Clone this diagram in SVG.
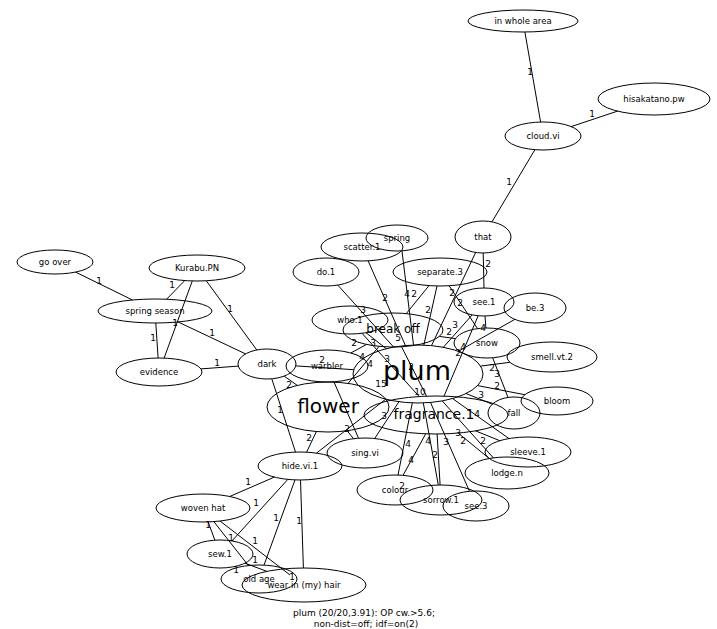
<svg xmlns="http://www.w3.org/2000/svg" width="717" height="629" viewBox="0 0 717 629">
<style>
  .bg { fill: #fff; }
  .e line { stroke: #000; stroke-width: 1; fill: none; }
  .w { font-family: "DejaVu Sans", "Liberation Sans", sans-serif; font-size: 9px; fill: #000; text-anchor: middle; }
  .n ellipse { fill: none; stroke: #000; stroke-width: 1; }
  .n text { font-family: "DejaVu Sans", "Liberation Sans", sans-serif; font-size: 8.5px; fill: #000; text-anchor: middle; }
  .foot { font-family: "DejaVu Sans", "Liberation Sans", sans-serif; font-size: 9px; fill: #000; text-anchor: middle; }
</style>
<rect class="bg" x="0" y="0" width="717" height="629"/>

<!-- connectors: lines run between ellipse rims, weight printed near the middle -->
<g id="connectors" class="e">
  <line x1="524.9" y1="32" x2="540.6" y2="122"/>
  <line x1="617.6" y1="111.1" x2="571.2" y2="126.6"/>
  <line x1="534.9" y1="149.7" x2="492" y2="221.8"/>
  <line x1="483.2" y1="253" x2="484" y2="288"/>
  <line x1="475.7" y1="252.4" x2="431.5" y2="345.6"/>
  <line x1="75.6" y1="272.1" x2="132.5" y2="300"/>
  <line x1="184.7" y1="280.6" x2="166.5" y2="299.3"/>
  <line x1="192.3" y1="280.9" x2="164.1" y2="358.1"/>
  <line x1="206.3" y1="280.8" x2="256.8" y2="350"/>
  <line x1="155.8" y1="323" x2="158.1" y2="358"/>
  <line x1="178.2" y1="322" x2="245.6" y2="353.9"/>
  <line x1="200.9" y1="368.9" x2="238.4" y2="366.1"/>
  <line x1="296" y1="365.9" x2="353.7" y2="369.7"/>
  <line x1="284.1" y1="376.1" x2="297.3" y2="385.4"/>
  <line x1="271.8" y1="378.8" x2="295.5" y2="452.1"/>
  <line x1="333.9" y1="381.8" x2="358.5" y2="438.2"/>
  <line x1="316.5" y1="453.1" x2="385.7" y2="399.2"/>
  <line x1="306.6" y1="452.2" x2="316.4" y2="431.5"/>
  <line x1="274.4" y1="477.1" x2="229.7" y2="496.5"/>
  <line x1="287.8" y1="479.4" x2="231.9" y2="541"/>
  <line x1="295" y1="479.9" x2="264" y2="565.1"/>
  <line x1="300.5" y1="480" x2="303.4" y2="568"/>
  <line x1="208.1" y1="521.9" x2="214.9" y2="540.2"/>
  <line x1="213.8" y1="521.6" x2="248.4" y2="565.6"/>
  <line x1="220" y1="521" x2="290" y2="575"/>
  <line x1="245" y1="563.2" x2="267" y2="571.4"/>
  <line x1="368.1" y1="260.8" x2="405.4" y2="345.5"/>
  <line x1="402" y1="251" x2="413.5" y2="345"/>
  <line x1="437" y1="286" x2="423.8" y2="345.1"/>
  <line x1="429" y1="285.6" x2="406.3" y2="313.6"/>
  <line x1="337.8" y1="285.1" x2="393.7" y2="347.1"/>
  <line x1="366" y1="332.7" x2="386.2" y2="348.7"/>
  <line x1="412.3" y1="402.9" x2="398" y2="475"/>
  <line x1="425.7" y1="433.8" x2="403" y2="475.4"/>
  <line x1="423.3" y1="402.9" x2="438.3" y2="485"/>
  <line x1="437.1" y1="434" x2="440.1" y2="485"/>
  <line x1="430.5" y1="402.5" x2="469.5" y2="491.3"/>
  <line x1="458.2" y1="433.1" x2="489.3" y2="458.5"/>
  <line x1="442.2" y1="400.9" x2="493.4" y2="457.9"/>
  <line x1="452.6" y1="398.6" x2="509" y2="438.6"/>
  <line x1="475.6" y1="430.9" x2="499.8" y2="440.7"/>
  <line x1="466" y1="393.5" x2="492.3" y2="404.2"/>
  <line x1="477.6" y1="385.6" x2="524.8" y2="394.7"/>
  <line x1="480.6" y1="366.1" x2="509.9" y2="362.3"/>
  <line x1="492.7" y1="357.8" x2="508" y2="397.4"/>
  <line x1="478.2" y1="315.7" x2="444" y2="396.1"/>
  <line x1="439.3" y1="336.4" x2="455.4" y2="338.6"/>
  <line x1="449.1" y1="285.7" x2="477.5" y2="328.6"/>
  <line x1="485" y1="316" x2="485.9" y2="328"/>
  <line x1="472.2" y1="314.9" x2="442.6" y2="348.1"/>
  <line x1="514.8" y1="319.4" x2="458.4" y2="351.2"/>
  <line x1="350.8" y1="353" x2="366.5" y2="344.4"/>
  <line x1="379.2" y1="346.3" x2="348" y2="383.4"/>
  <line x1="401.5" y1="346.7" x2="426.5" y2="396.1"/>
  <line x1="362" y1="333.3" x2="419.2" y2="396.5"/>
  <line x1="374.7" y1="438.5" x2="399.3" y2="401.2"/>
  <line x1="353.5" y1="438.7" x2="347.1" y2="430.7"/>

  <g class="w">
    <text x="530" y="75">1</text>
    <text x="592" y="117">1</text>
    <text x="509" y="185">1</text>
    <text x="488" y="267">2</text>
    <text x="452" y="296">2</text>
    <text x="99" y="284">1</text>
    <text x="172" y="288">1</text>
    <text x="175" y="326">1</text>
    <text x="230" y="312">1</text>
    <text x="153" y="341">1</text>
    <text x="212" y="336">1</text>
    <text x="217" y="366">1</text>
    <text x="322" y="363">2</text>
    <text x="289" y="388">2</text>
    <text x="280" y="413">1</text>
    <text x="347" y="432">2</text>
    <text x="309" y="441">2</text>
    <text x="248" y="485">1</text>
    <text x="256" y="506">1</text>
    <text x="276" y="521">1</text>
    <text x="299" y="524">1</text>
    <text x="208" y="528">1</text>
    <text x="231" y="541">1</text>
    <text x="255" y="544">1</text>
    <text x="255" y="563">1</text>
    <text x="236" y="573">1</text>
    <text x="292" y="580">1</text>
    <text x="385" y="301">2</text>
    <text x="407" y="297">4</text>
    <text x="414" y="297">2</text>
    <text x="428" y="313">2</text>
    <text x="460" y="306">2</text>
    <text x="363" y="313">3</text>
    <text x="373" y="346">3</text>
    <text x="354" y="346">2</text>
    <text x="398" y="341">5</text>
    <text x="449" y="335">2</text>
    <text x="455" y="328">3</text>
    <text x="483" y="331">4</text>
    <text x="463" y="350">4</text>
    <text x="458" y="356">2</text>
    <text x="362" y="360">4</text>
    <text x="370" y="367">4</text>
    <text x="387" y="362">3</text>
    <text x="411" y="370">2</text>
    <text x="381" y="387">15</text>
    <text x="420" y="395">10</text>
    <text x="384" y="419">3</text>
    <text x="492" y="371">2</text>
    <text x="497" y="377">3</text>
    <text x="497" y="389">2</text>
    <text x="481" y="398">3</text>
    <text x="477" y="417">4</text>
    <text x="483" y="444">2</text>
    <text x="458" y="436">3</text>
    <text x="463" y="444">2</text>
    <text x="446" y="445">3</text>
    <text x="428" y="444">4</text>
    <text x="435" y="458">2</text>
    <text x="408" y="447">4</text>
    <text x="411" y="463">4</text>
    <text x="402" y="489">2</text>
  </g>
</g>

<!-- nodes -->
<g id="n-in-whole-area" class="n"><ellipse cx="523" cy="21" rx="55" ry="11"/><text x="523" y="24">in whole area</text></g>
<g id="n-hisakatano" class="n"><ellipse cx="654" cy="99" rx="56" ry="16"/><text x="654" y="102">hisakatano.pw</text></g>
<g id="n-cloud" class="n"><ellipse cx="543" cy="136" rx="38" ry="14"/><text x="543" y="139">cloud.vi</text></g>
<g id="n-that" class="n"><ellipse cx="483" cy="237" rx="28" ry="16"/><text x="483" y="240">that</text></g>
<g id="n-go-over" class="n"><ellipse cx="55" cy="262" rx="38" ry="12"/><text x="55" y="265">go over</text></g>
<g id="n-kurabu" class="n"><ellipse cx="197" cy="268" rx="48" ry="13"/><text x="197" y="271">Kurabu.PN</text></g>
<g id="n-spring-season" class="n"><ellipse cx="155" cy="311" rx="57" ry="12"/><text x="155" y="314">spring season</text></g>
<g id="n-evidence" class="n"><ellipse cx="159" cy="372" rx="43" ry="14"/><text x="159" y="375">evidence</text></g>
<g id="n-dark" class="n"><ellipse cx="267" cy="364" rx="29" ry="15"/><text x="267" y="367">dark</text></g>
<g id="n-scatter" class="n"><ellipse cx="362" cy="247" rx="41" ry="14"/><text x="362" y="250">scatter.1</text></g>
<g id="n-spring" class="n"><ellipse cx="397" cy="238" rx="31" ry="13"/><text x="397" y="241">spring</text></g>
<g id="n-do" class="n"><ellipse cx="326" cy="272" rx="33" ry="14"/><text x="326" y="275">do.1</text></g>
<g id="n-separate" class="n"><ellipse cx="440" cy="272" rx="47" ry="14"/><text x="440" y="275">separate.3</text></g>
<g id="n-see1" class="n"><ellipse cx="484" cy="302" rx="30" ry="14"/><text x="484" y="305">see.1</text></g>
<g id="n-be" class="n"><ellipse cx="535" cy="308" rx="31" ry="15"/><text x="535" y="311">be.3</text></g>
<g id="n-who" class="n"><ellipse cx="350" cy="320" rx="38" ry="14"/><text x="350" y="323">who.1</text></g>
<g id="n-break-off" class="n"><ellipse cx="393" cy="330" rx="50" ry="17"/><text x="393" y="333" style="font-size:12px">break off</text></g>
<g id="n-snow" class="n"><ellipse cx="487" cy="343" rx="33" ry="15"/><text x="487" y="346">snow</text></g>
<g id="n-smell" class="n"><ellipse cx="552" cy="357" rx="45" ry="15"/><text x="552" y="360">smell.vt.2</text></g>
<g id="n-plum" class="n"><ellipse cx="418" cy="374" rx="65" ry="29"/><text x="417" y="380" style="font-size:27px">plum</text></g>
<g id="n-warbler" class="n"><ellipse cx="327" cy="366" rx="41" ry="16"/><text x="327" y="369">warbler</text></g>
<g id="n-flower" class="n"><ellipse cx="328" cy="407" rx="61" ry="25"/><text x="328" y="413" style="font-size:20px">flower</text></g>
<g id="n-fragrance" class="n"><ellipse cx="436" cy="415" rx="72" ry="19"/><text x="434" y="419" style="font-size:14px">fragrance.1</text></g>
<g id="n-fall" class="n"><ellipse cx="514" cy="413" rx="26" ry="16"/><text x="514" y="416">fall</text></g>
<g id="n-bloom" class="n"><ellipse cx="557" cy="401" rx="36" ry="14"/><text x="557" y="404">bloom</text></g>
<g id="n-sleeve" class="n"><ellipse cx="528" cy="452" rx="43" ry="15"/><text x="528" y="455">sleeve.1</text></g>
<g id="n-lodge" class="n"><ellipse cx="507" cy="473" rx="42" ry="16"/><text x="507" y="476">lodge.n</text></g>
<g id="n-sing" class="n"><ellipse cx="365" cy="453" rx="38" ry="15"/><text x="365" y="456">sing.vi</text></g>
<g id="n-hide" class="n"><ellipse cx="300" cy="466" rx="42" ry="14"/><text x="300" y="469">hide.vi.1</text></g>
<g id="n-colour" class="n"><ellipse cx="395" cy="490" rx="38" ry="15"/><text x="395" y="493">colour</text></g>
<g id="n-sorrow" class="n"><ellipse cx="441" cy="500" rx="41" ry="15"/><text x="441" y="503">sorrow.1</text></g>
<g id="n-see3" class="n"><ellipse cx="476" cy="506" rx="33" ry="15"/><text x="476" y="509">see.3</text></g>
<g id="n-woven-hat" class="n"><ellipse cx="203" cy="508" rx="47" ry="14"/><text x="203" y="511">woven hat</text></g>
<g id="n-sew" class="n"><ellipse cx="220" cy="554" rx="33" ry="14"/><text x="220" y="557">sew.1</text></g>
<g id="n-old-age" class="n"><ellipse cx="259" cy="579" rx="38" ry="14"/><text x="259" y="582">old age</text></g>
<g id="n-wear-hair" class="n"><ellipse cx="304" cy="585" rx="62" ry="17"/><text x="304" y="588">wear in (my) hair</text></g>

<!-- caption -->
<text class="foot" x="364" y="616">plum (20/20,3.91): OP cw.&gt;5.6;</text>
<text class="foot" x="366" y="627">non-dist=off; idf=on(2)</text>
</svg>
